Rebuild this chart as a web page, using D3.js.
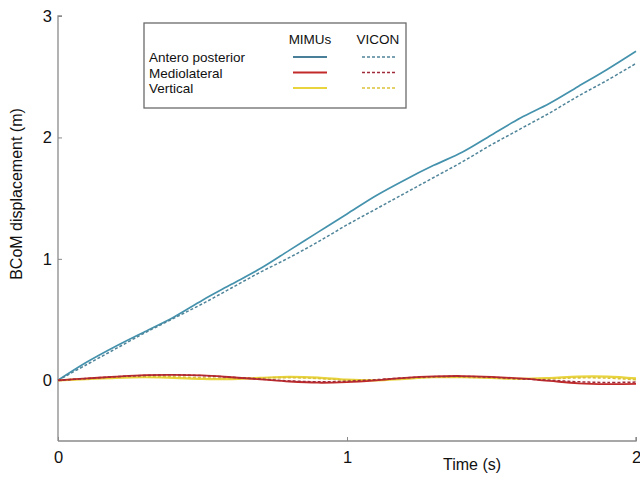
<!DOCTYPE html>
<html>
<head>
<meta charset="utf-8">
<script src="https://cdn.jsdelivr.net/npm/d3@7"></script>
<style>
  body { margin: 0; background: #fff; }
  svg { display: block; font-family: "Liberation Sans", Arial, sans-serif; }
</style>
</head>
<body>
<svg id="canvas" width="640" height="477"></svg>
<script>
// dati (campioni ogni 0.1 s)
const tempi = d3.range(0, 21).map(i => i / 10);

const apMimu  = [0, 0.15, 0.28, 0.40, 0.52, 0.66, 0.79, 0.92, 1.07, 1.22, 1.37, 1.52, 1.65, 1.77, 1.88, 2.02, 2.16, 2.28, 2.42, 2.56, 2.71];
const apVicon = [0, 0.13, 0.26, 0.39, 0.51, 0.63, 0.76, 0.89, 1.01, 1.14, 1.28, 1.41, 1.54, 1.67, 1.80, 1.94, 2.07, 2.20, 2.34, 2.47, 2.61];
const mlMimu  = [0, 0.015, 0.03, 0.042, 0.045, 0.04, 0.025, 0.008, -0.01, -0.02, -0.015, 0.0, 0.02, 0.032, 0.035, 0.028, 0.015, -0.005, -0.025, -0.032, -0.03];
const mlVicon = [0, 0.015, 0.03, 0.04, 0.045, 0.038, 0.025, 0.01, -0.005, -0.012, -0.008, 0.005, 0.02, 0.03, 0.032, 0.025, 0.012, 0.0, -0.012, -0.018, -0.015];
const vMimu   = [0, 0.01, 0.02, 0.025, 0.02, 0.012, 0.01, 0.02, 0.028, 0.022, 0.005, 0.0, 0.012, 0.025, 0.025, 0.02, 0.012, 0.018, 0.03, 0.03, 0.015];
const vVicon  = [0, 0.012, 0.025, 0.03, 0.028, 0.02, 0.015, 0.02, 0.022, 0.015, 0.003, 0.002, 0.015, 0.025, 0.025, 0.02, 0.01, 0.012, 0.02, 0.018, 0.005];

const tickX = [0, 1, 2];
const tickY = [0, 1, 2, 3];
const nomiLegenda = ["Antero posterior", "Mediolateral", "Vertical"];

const serie = [
  { nome: "AP MIMUs", valori: apMimu, colore: "#4592ad", tratteggio: null, spessore: 1.7 },
  { nome: "AP VICON", valori: apVicon, colore: "#4f8499", tratteggio: "3,2", spessore: 1.5 },
  { nome: "V MIMUs", valori: vMimu, colore: "#e8d43c", tratteggio: null, spessore: 2.2 },
  { nome: "V VICON", valori: vVicon, colore: "#dcc23a", tratteggio: "3,2", spessore: 1.6 },
  { nome: "ML MIMUs", valori: mlMimu, colore: "#c22a2a", tratteggio: null, spessore: 1.8 },
  { nome: "ML VICON", valori: mlVicon, colore: "#9e2a3a", tratteggio: "3,2", spessore: 1.5 }
];

let svg = d3.select("#canvas");

const scalaX = d3.scaleLinear().domain([0, 2]).range([58, 636]);
const scalaY = d3.scaleLinear().domain([-0.5, 3]).range([441, 16]);

const colAsse = "#8a8a8a";

// assi
const asseX = d3.axisBottom(scalaX).tickValues(tickX).tickSize(-4).tickPadding(10).tickFormat(d3.format("d"));
const gx = svg.append("g").attr("transform", `translate(0,${scalaY(-0.5)})`).call(asseX);
gx.select(".domain").attr("stroke", colAsse).attr("stroke-width", 1.3).attr("d", `M${scalaX(0)},0H${scalaX(2)}V-4`);
gx.selectAll(".tick line").attr("stroke", colAsse);
gx.selectAll(".tick text").attr("font-size", 16.5).attr("fill", "#111").attr("font-family", "Liberation Sans, Arial");

const asseY = d3.axisLeft(scalaY).tickValues(tickY).tickSize(-4).tickPadding(6).tickFormat(d3.format("d"));
const gy = svg.append("g").attr("transform", `translate(${scalaX(0)},0)`).call(asseY);
gy.select(".domain").attr("stroke", colAsse).attr("stroke-width", 1.3).attr("d", `M4,${scalaY(3)}H0V${scalaY(-0.5)}`);
gy.selectAll(".tick line").attr("stroke", colAsse);
gy.selectAll(".tick text").attr("font-size", 16.5).attr("fill", "#111").attr("font-family", "Liberation Sans, Arial");

svg.append("text")
  .attr("x", 472).attr("y", 470)
  .attr("text-anchor", "middle")
  .attr("font-size", 16).attr("fill", "#111")
  .text("Time (s)");

svg.append("text")
  .attr("transform", "translate(22,194) rotate(-90)")
  .attr("text-anchor", "middle")
  .attr("font-size", 16).attr("fill", "#111")
  .text("BCoM displacement (m)");

// linee
const linea = d3.line()
  .x((d, i) => scalaX(tempi[i]))
  .y(d => scalaY(d))
  .curve(d3.curveCatmullRom);

svg.selectAll("path.serie")
  .data(serie)
  .enter()
  .append("path")
  .attr("class", "serie")
  .attr("d", d => linea(d.valori))
  .attr("fill", "none")
  .attr("stroke", d => d.colore)
  .attr("stroke-width", d => d.spessore)
  .attr("stroke-dasharray", d => d.tratteggio);

// legenda
const leg = svg.append("g");
leg.append("rect")
  .attr("x", 144).attr("y", 23).attr("width", 262).attr("height", 85)
  .attr("fill", "#fff").attr("stroke", "#6a6a6a").attr("stroke-width", 1.3);

leg.append("text").attr("x", 310).attr("y", 44).attr("text-anchor", "middle")
  .attr("font-size", 13.5).attr("fill", "#111").text("MIMUs");
leg.append("text").attr("x", 378).attr("y", 44).attr("text-anchor", "middle")
  .attr("font-size", 13.5).attr("fill", "#111").text("VICON");

const coloriLeg = [["#4a7f9a", "#4f8499"], ["#c22a2a", "#9e2a3a"], ["#e8d43c", "#dcc23a"]];
nomiLegenda.forEach((nome, i) => {
  const yRiga = 57 + i * 15.5;
  leg.append("text").attr("x", 149).attr("y", yRiga + 5)
    .attr("font-size", 13.5).attr("fill", "#111").text(nome);
  leg.append("line").attr("x1", 293).attr("x2", 327).attr("y1", yRiga).attr("y2", yRiga)
    .attr("stroke", coloriLeg[i][0]).attr("stroke-width", 1.8);
  leg.append("line").attr("x1", 362).attr("x2", 396).attr("y1", yRiga).attr("y2", yRiga)
    .attr("stroke", coloriLeg[i][1]).attr("stroke-width", 1.5).attr("stroke-dasharray", "3,2");
});
</script>
</body>
</html>
